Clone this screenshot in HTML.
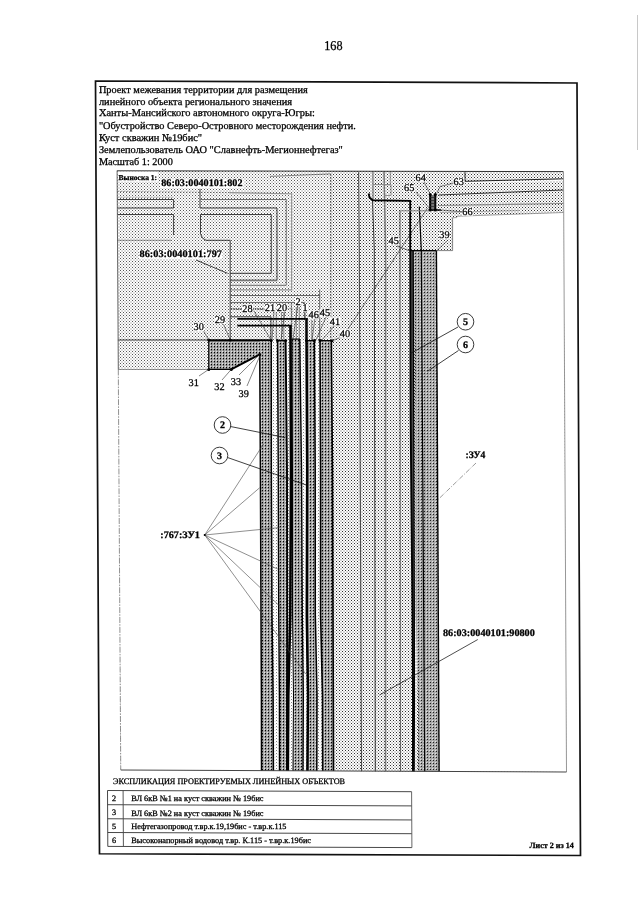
<!DOCTYPE html>
<html lang="ru"><head><meta charset="utf-8"><title>168</title>
<style>
html,body{margin:0;padding:0;background:#fff;}
body{width:640px;height:905px;overflow:hidden;}
svg{display:block;opacity:.999;will-change:transform;font-family:"Liberation Serif","DejaVu Serif",serif;fill:#000;}
text{stroke:#000;stroke-width:.28px;text-rendering:geometricPrecision;}
</style></head><body>
<svg width="640" height="905" viewBox="0 0 640 905">
<defs>
<pattern id="pl" patternUnits="userSpaceOnUse" width="3" height="3">
<rect width="3" height="3" fill="#fff"/>
<rect x="1" y="1" width="2" height="2" fill="#dcdcdc" shape-rendering="crispEdges"/>
<rect x="0" y="0" width="1" height="1" fill="#565656" shape-rendering="crispEdges"/>
</pattern>
<pattern id="pl2" patternUnits="userSpaceOnUse" width="3" height="3">
<rect width="3" height="3" fill="#fff"/>
<rect x="1" y="1" width="2" height="2" fill="#d6d6d6" shape-rendering="crispEdges"/>
<rect x="0" y="0" width="1" height="1" fill="#303030" shape-rendering="crispEdges"/>
</pattern>
<pattern id="pw" patternUnits="userSpaceOnUse" width="3" height="3">
<rect width="3" height="3" fill="#fff"/>
<rect x="0" y="0" width="1" height="1" fill="#808080" shape-rendering="crispEdges"/>
<rect x="1" y="1" width="2" height="1" fill="#ececec" shape-rendering="crispEdges"/>
</pattern>
<pattern id="pd" patternUnits="userSpaceOnUse" width="3" height="3">
<rect width="3" height="3" fill="#a8a8a8"/>
<rect x="1" y="1" width="1" height="1" fill="#000" shape-rendering="crispEdges"/>
<rect x="1" y="2" width="1" height="1" fill="#747474" shape-rendering="crispEdges"/>
<rect x="0" y="0" width="1" height="1" fill="#e2e2e2" shape-rendering="crispEdges"/>
</pattern>
<pattern id="pd2" patternUnits="userSpaceOnUse" width="3" height="3">
<rect width="3" height="3" fill="#aaaaaa"/>
<rect x="1" y="1" width="1" height="1" fill="#1e1e1e" shape-rendering="crispEdges"/>
<rect x="0" y="0" width="1" height="1" fill="#e2e2e2" shape-rendering="crispEdges"/>
</pattern>
</defs>
<rect width="640" height="905" fill="#fff"/>

<path d="M637.5,15 V150" fill="none" stroke="#c8c8c8" stroke-width="1" />
<text x="324.20" y="50.30" font-size="13.5" font-weight="normal" text-anchor="start" textLength="18.30" lengthAdjust="spacingAndGlyphs" >168</text>
<polygon points="95.50,81.00 577.00,83.00 580.50,855.50 99.50,853.75" fill="none" stroke="#111" stroke-width="1.7" />
<text x="98.90" y="92.50" font-size="10.3" font-weight="normal" text-anchor="start" textLength="208.95" lengthAdjust="spacingAndGlyphs" >Проект межевания территории для размещения</text>
<text x="98.90" y="104.50" font-size="10.3" font-weight="normal" text-anchor="start" textLength="193.20" lengthAdjust="spacingAndGlyphs" >линейного объекта регионального значения</text>
<text x="98.90" y="116.40" font-size="10.3" font-weight="normal" text-anchor="start" textLength="215.95" lengthAdjust="spacingAndGlyphs" >Ханты-Мансийского автономного округа-Югры:</text>
<text x="98.90" y="128.75" font-size="10.3" font-weight="normal" text-anchor="start" textLength="256.95" lengthAdjust="spacingAndGlyphs" >"Обустройство Северо-Островного месторождения нефти.</text>
<text x="98.90" y="140.75" font-size="10.3" font-weight="normal" text-anchor="start" textLength="103.20" lengthAdjust="spacingAndGlyphs" >Куст скважин №19бис"</text>
<text x="98.90" y="152.60" font-size="10.3" font-weight="normal" text-anchor="start" textLength="243.95" lengthAdjust="spacingAndGlyphs" >Землепользователь ОАО "Славнефть-Мегионнефтегаз"</text>
<text x="98.90" y="164.60" font-size="10.3" font-weight="normal" text-anchor="start" textLength="73.95" lengthAdjust="spacingAndGlyphs" >Масштаб 1: 2000</text>
<g id="map">
<polygon points="117.10,170.50 563.20,171.30 566.50,772.00 120.75,770.00" fill="url(#pl)" stroke="none" stroke-width="1" />
<polygon points="330.80,170.90 563.20,171.30 566.50,772.00 333.50,771.00" fill="url(#pl2)" stroke="none" stroke-width="1" />
<polygon points="118.20,369.50 231.25,369.40 259.75,354.40 261.50,771.00 120.75,770.00" fill="#fff" stroke="none" stroke-width="1" />
<polygon points="452.60,217.80 456.50,217.60 458.00,216.20 563.60,212.50 566.50,772.00 439.30,771.60 436.75,250.60 452.60,250.60" fill="#fff" stroke="none" stroke-width="1" />
<polygon points="208.75,340.00 271.25,340.40 271.30,470.00 272.00,615.00 273.10,695.00 273.40,771.00 261.50,771.00 261.40,695.00 261.00,615.00 260.40,470.00 259.75,354.40 231.25,369.40 208.75,369.40" fill="url(#pd)" stroke="none" stroke-width="1" />
<polygon points="277.50,340.60 278.25,470.00 278.75,615.00 279.40,695.00 279.50,771.00 287.00,771.00 287.00,695.00 287.25,615.00 287.00,470.00 285.60,340.60" fill="url(#pd)" stroke="none" stroke-width="1" />
<polygon points="292.00,339.00 292.50,470.00 292.50,615.00 293.50,695.00 293.00,771.00 303.00,771.00 303.30,695.00 302.30,615.00 301.50,470.00 299.75,339.00" fill="url(#pd)" stroke="none" stroke-width="1" />
<polygon points="306.50,340.00 307.20,470.00 306.80,615.00 308.00,695.00 307.40,771.00 316.80,771.00 317.00,695.00 315.30,615.00 315.20,470.00 314.40,340.60" fill="url(#pd)" stroke="none" stroke-width="1" />
<polygon points="320.00,340.60 320.60,470.00 320.60,615.00 322.50,695.00 322.70,771.00 333.50,771.00 333.30,695.00 333.00,615.00 332.50,470.00 331.30,340.80" fill="url(#pd)" stroke="none" stroke-width="1" />
<polygon points="271.25,340.40 271.30,470.00 272.00,615.00 273.10,695.00 273.40,771.00 279.50,771.00 279.40,695.00 278.75,615.00 278.25,470.00 277.50,340.60" fill="url(#pw)" stroke="none" stroke-width="1" />
<polygon points="285.60,340.60 287.00,470.00 287.25,615.00 287.00,695.00 287.00,771.00 293.00,771.00 293.50,695.00 292.50,615.00 292.50,470.00 292.00,339.00" fill="url(#pw)" stroke="none" stroke-width="1" />
<polygon points="299.75,339.00 301.50,470.00 302.30,615.00 303.30,695.00 303.00,771.00 307.40,771.00 308.00,695.00 306.80,615.00 307.20,470.00 306.50,340.00" fill="url(#pw)" stroke="none" stroke-width="1" />
<polygon points="314.40,340.60 315.20,470.00 315.30,615.00 317.00,695.00 316.80,771.00 322.70,771.00 322.50,695.00 320.60,615.00 320.60,470.00 320.00,340.60" fill="url(#pw)" stroke="none" stroke-width="1" />
<polygon points="413.50,250.60 436.40,250.60 439.10,771.60 417.80,771.60 418.00,705.00 415.70,615.00 415.50,415.00" fill="url(#pd2)" stroke="none" stroke-width="1" />
<polygon points="410.20,250.60 410.60,415.00 412.50,615.00 413.00,705.00 412.90,771.60 414.10,771.60 414.40,705.00 414.30,615.00 413.70,415.00 413.20,250.60" fill="#4a4a4a" stroke="none" stroke-width="1" />
<path d="M117.3,199.5 H173.6 V208 H117.3" fill="none" stroke="#2a2a2a" stroke-width="0.9" />
<path d="M117.4,214.5 H173.6 V235" fill="none" stroke="#2a2a2a" stroke-width="0.9" />
<path d="M117.6,240.3 H171.5" fill="none" stroke="#777" stroke-width="0.8" />
<path d="M117.2,191.5 L230,192.6" fill="none" stroke="#666" stroke-width="0.8" stroke-dasharray="1.5 1.5"/>
<path d="M117.2,197.3 H173" fill="none" stroke="#888" stroke-width="0.7" stroke-dasharray="1.5 1.5"/>
<path d="M200,189 V208" fill="none" stroke="#2a2a2a" stroke-width="0.9" />
<path d="M230,192.6 L291.6,193.75 V289.8 H230.2" fill="none" stroke="#969696" stroke-width="1.2" />
<path d="M200,199.5 H286.25 V285.3 H230.2" fill="none" stroke="#707070" stroke-width="1.0" />
<path d="M200,208 H277 V280.3" fill="none" stroke="#2a2a2a" stroke-width="0.9" />
<path d="M230.2,280.3 H277" fill="none" stroke="#777" stroke-width="1.8" />
<path d="M271.25,214.5 H200.5 V233.75 Q201.5,239 206,240.3 H230.2 V340" fill="none" stroke="#2a2a2a" stroke-width="0.9" />
<path d="M271.25,214.5 V273.3 H230.2" fill="none" stroke="#2a2a2a" stroke-width="0.9" />
<path d="M196,260 L227.5,273.3" fill="none" stroke="#2a2a2a" stroke-width="0.9" />
<path d="M230.2,295.5 H319.7 V340" fill="none" stroke="#555" stroke-width="0.9" />
<path d="M319.7,289.4 V296" fill="none" stroke="#555" stroke-width="0.9" />
<path d="M230.2,302.6 H304.4 V320" fill="none" stroke="#555" stroke-width="0.9" />
<path d="M231.5,308.9 H268" fill="none" stroke="#555" stroke-width="1.7" stroke-dasharray="0.1 2.3" stroke-linecap="round"/>
<path d="M268,308.7 H292 V340" fill="none" stroke="#555" stroke-width="0.8" stroke-dasharray="1.2 1.2"/>
<path d="M230.2,316.8 H270.9 V340" fill="none" stroke="#2a2a2a" stroke-width="0.9" />
<path d="M276.3,312 V340 M281.6,312 V340 M283.8,312 V340 M291.4,304 V325 M296.3,307 V339 M299.3,307 V339 M311.8,320 V340" fill="none" stroke="#444" stroke-width="0.6" />
<path d="M209.5,341.6 H259" fill="none" stroke="#222" stroke-width="1.0" stroke-dasharray="1 2"/>
<polyline points="237.40,318.90 307.40,318.90" fill="none" stroke="#000" stroke-width="1.8" />
<polyline points="306.50,318.10 306.50,340.00 307.20,470.00 306.80,615.00 308.00,695.00 307.40,771.00" fill="none" stroke="#000" stroke-width="2.5" />
<polyline points="237.40,325.70 291.40,325.70" fill="none" stroke="#000" stroke-width="1.8" />
<polyline points="290.50,324.90 290.50,340.00 291.00,470.00 290.30,615.00 288.30,695.00 287.80,771.00" fill="none" stroke="#000" stroke-width="2.6" />
<path d="M117.9,340 H208.75" fill="none" stroke="#2a2a2a" stroke-width="0.9" />
<path d="M330.75,173.9 V340" fill="none" stroke="#444" stroke-width="0.9" stroke-dasharray="2 1"/>
<path d="M270,176.4 L330.75,173.9" fill="none" stroke="#555" stroke-width="0.7" />
<polyline points="358.60,172.20 359.30,250.00 361.50,771.30" fill="none" stroke="#4a4a4a" stroke-width="1.1" />
<polyline points="372.50,200.00 374.30,250.00 375.30,771.30" fill="none" stroke="#333" stroke-width="1.0" />
<polyline points="372.90,171.50 373.10,200.00" fill="none" stroke="#8c8c8c" stroke-width="1.5" />
<polyline points="384.00,171.50 384.60,200.00 385.60,250.00 385.50,771.30" fill="none" stroke="#777" stroke-width="1.5" />
<polyline points="400.00,211.00 400.00,250.00 400.40,771.30" fill="none" stroke="#444" stroke-width="0.9" />
<path d="M373,184.5 H384 M384,184.5 H390.3 V171.5 M384.7,185 Q385,184.5 391,184.8 V195.5 H384.7" fill="none" stroke="#888" stroke-width="0.9" />
<path d="M427.5,208 L348,329" fill="none" stroke="#444" stroke-width="0.7" />
<path d="M397,246 L410,251" fill="none" stroke="#333" stroke-width="0.7" />
<polyline points="368.75,193.50 369.50,197.50 372.50,200.20 410.20,200.90 410.20,250.60 410.60,415.00 412.50,615.00 413.00,705.00 412.90,771.60" fill="none" stroke="#000" stroke-width="1.9" stroke-linejoin="miter"/>
<polyline points="413.20,250.60 413.70,415.00 414.30,615.00 414.40,705.00 414.10,771.60" fill="none" stroke="#000" stroke-width="1.3" />
<polyline points="419.30,206.60 421.30,250.60 424.70,771.60" fill="none" stroke="#000" stroke-width="1.2" />
<polyline points="436.40,250.60 439.10,771.60" fill="none" stroke="#000" stroke-width="1.4" />
<path d="M410.2,250.6 H436.4" fill="none" stroke="#000" stroke-width="1.3" />
<path d="M436.4,250.6 H452.6 V217.8" fill="none" stroke="#666" stroke-width="0.8" />
<path d="M452.6,217.8 L456.5,217.6 L458,216.2 L563.5,212.5" fill="none" stroke="#888" stroke-width="0.8" />
<path d="M465,172.2 V181.3 L563.3,178.8" fill="none" stroke="#222" stroke-width="1.0" />
<path d="M465.5,182.8 L563.3,180.3" fill="none" stroke="#fff" stroke-width="1.0" />
<path d="M438.5,195 L563.3,190" fill="none" stroke="#333" stroke-width="1.0" />
<path d="M438,205.5 L563.3,203.5" fill="none" stroke="#888" stroke-width="1.2" />
<path d="M440,212.5 L520,210.5" fill="none" stroke="#999" stroke-width="0.8" />
<rect x="430.20" y="195.00" width="5.00" height="14.60" fill="#777" />
<path d="M430.2,194.5 V210 M435.3,194.5 V210" fill="none" stroke="#000" stroke-width="2.0" />
<path d="M430,197.5 H435.5 M430,200.5 H435.5 M430,203.5 H435.5 M430,206.5 H435.5" fill="none" stroke="#222" stroke-width="0.7" />
<path d="M428.5,210 H441" fill="none" stroke="#000" stroke-width="1.5" />
<path d="M400,210.8 H429" fill="none" stroke="#888" stroke-width="1.0" />
<circle cx="430.20" cy="194.60" r="1.5" fill="#000"/>
<circle cx="435.30" cy="194.60" r="1.5" fill="#000"/>
<circle cx="430.20" cy="210.00" r="1.5" fill="#000"/>
<circle cx="435.30" cy="210.00" r="1.5" fill="#000"/>
<path d="M430,193.5 L424,182 M437,193 L440,186.5 L455,182.8 M429.5,208.5 L416,192 M441,210 L463,211.8" fill="none" stroke="#333" stroke-width="0.6" />
<polyline points="259.75,354.40 260.40,470.00 261.00,615.00 261.40,695.00 261.50,771.00" fill="none" stroke="#000" stroke-width="1.5" />
<polyline points="271.25,340.40 271.30,470.00 272.00,615.00 273.10,695.00 273.40,771.00" fill="none" stroke="#000" stroke-width="1.5" />
<polyline points="277.50,340.60 278.25,470.00 278.75,615.00 279.40,695.00 279.50,771.00" fill="none" stroke="#000" stroke-width="1.4" />
<polyline points="285.60,340.60 287.00,470.00 287.25,615.00 287.00,695.00 287.00,771.00" fill="none" stroke="#000" stroke-width="1.9" />
<polyline points="292.00,339.00 292.50,470.00 292.50,615.00 293.50,695.00 293.00,771.00" fill="none" stroke="#000" stroke-width="1.0" />
<polyline points="299.75,339.00 301.50,470.00 302.30,615.00 303.30,695.00 303.00,771.00" fill="none" stroke="#000" stroke-width="1.4" />
<polyline points="314.40,340.60 315.20,470.00 315.30,615.00 317.00,695.00 316.80,771.00" fill="none" stroke="#000" stroke-width="1.5" />
<polyline points="320.00,340.60 320.60,470.00 320.60,615.00 322.50,695.00 322.70,771.00" fill="none" stroke="#000" stroke-width="1.6" />
<polyline points="331.30,340.80 332.50,470.00 333.00,615.00 333.30,695.00 333.50,771.00" fill="none" stroke="#000" stroke-width="1.6" />
<path d="M208.75,340.1 H271.5" fill="none" stroke="#000" stroke-width="1.6" />
<path d="M277.5,340.6 H285.6 M292,339.2 H299.75 M306,340.6 H314.4 M320,340.6 H331.6" fill="none" stroke="#000" stroke-width="1.3" />
<polyline points="208.75,340.00 208.75,369.40 231.25,369.40" fill="none" stroke="#000" stroke-width="1.2" />
<polyline points="231.25,369.40 259.75,354.40" fill="none" stroke="#000" stroke-width="1.8" />
<path d="M118.2,369.5 H208.75" fill="none" stroke="#666" stroke-width="0.7" />
<circle cx="208.75" cy="340.00" r="1.5" fill="#000"/>
<circle cx="208.75" cy="369.40" r="1.5" fill="#000"/>
<circle cx="231.25" cy="369.40" r="1.5" fill="#000"/>
<circle cx="271.25" cy="340.50" r="1.5" fill="#000"/>
<circle cx="259.75" cy="354.40" r="1.5" fill="#000"/>
<circle cx="332.00" cy="340.80" r="1.5" fill="#000"/>
<circle cx="277.50" cy="340.60" r="1.5" fill="#000"/>
<circle cx="285.60" cy="340.60" r="1.5" fill="#000"/>
<circle cx="306.50" cy="340.60" r="1.5" fill="#000"/>
<circle cx="314.40" cy="340.60" r="1.5" fill="#000"/>
<circle cx="320.00" cy="340.60" r="1.5" fill="#000"/>
<circle cx="230.20" cy="340.00" r="1.5" fill="#000"/>
<path d="M203,330 L208.75,340 M223,323 L230.2,340 M254,311 L271,340 M274,311 L272,340 M285,311 L281,340 M298,304 L293,339 M305,311 L306,330 M315,318 L312,340 M326,317 L316,340 M335,325 L322,340 M344,336 L332,340.8" fill="none" stroke="#333" stroke-width="0.6" />
<path d="M199,376 L208.75,369.4 M222,380 L231.25,369.4 M239,375 L259.75,354.4 M247,386 L259.75,356" fill="none" stroke="#333" stroke-width="0.6" />
<rect x="193.25" y="323.20" width="11.00" height="8.00" fill="#fff" />
<text x="198.75" y="330.40" font-size="10.3" font-weight="normal" text-anchor="middle" >30</text>
<rect x="214.50" y="316.20" width="11.00" height="8.00" fill="#fff" />
<text x="220.00" y="323.40" font-size="10.3" font-weight="normal" text-anchor="middle" >29</text>
<rect x="242.00" y="304.70" width="11.00" height="8.00" fill="#fff" />
<text x="247.50" y="311.90" font-size="10.3" font-weight="normal" text-anchor="middle" >28</text>
<rect x="264.50" y="303.70" width="11.00" height="8.00" fill="#fff" />
<text x="270.00" y="310.90" font-size="10.3" font-weight="normal" text-anchor="middle" >21</text>
<rect x="276.50" y="303.70" width="11.00" height="8.00" fill="#fff" />
<text x="282.00" y="310.90" font-size="10.3" font-weight="normal" text-anchor="middle" >20</text>
<rect x="295.00" y="297.70" width="6.00" height="8.00" fill="#fff" />
<text x="298.00" y="304.90" font-size="10.3" font-weight="normal" text-anchor="middle" >2</text>
<rect x="302.00" y="304.20" width="6.00" height="8.00" fill="#fff" />
<text x="305.00" y="311.40" font-size="10.3" font-weight="normal" text-anchor="middle" >1</text>
<rect x="308.25" y="310.70" width="11.00" height="8.00" fill="#fff" />
<text x="313.75" y="317.90" font-size="10.3" font-weight="normal" text-anchor="middle" >46</text>
<rect x="319.50" y="309.20" width="11.00" height="8.00" fill="#fff" />
<text x="325.00" y="316.40" font-size="10.3" font-weight="normal" text-anchor="middle" >45</text>
<rect x="329.50" y="317.70" width="11.00" height="8.00" fill="#fff" />
<text x="335.00" y="324.90" font-size="10.3" font-weight="normal" text-anchor="middle" >41</text>
<rect x="339.50" y="329.70" width="11.00" height="8.00" fill="#fff" />
<text x="345.00" y="336.90" font-size="10.3" font-weight="normal" text-anchor="middle" >40</text>
<text x="193.75" y="386.20" font-size="10.3" font-weight="normal" text-anchor="middle" >31</text>
<text x="219.50" y="390.30" font-size="10.3" font-weight="normal" text-anchor="middle" >32</text>
<text x="236.00" y="385.20" font-size="10.3" font-weight="normal" text-anchor="middle" >33</text>
<text x="243.75" y="396.70" font-size="10.3" font-weight="normal" text-anchor="middle" >39</text>
<rect x="415.25" y="173.70" width="11.00" height="8.00" fill="#fff" />
<text x="420.75" y="180.90" font-size="10.3" font-weight="normal" text-anchor="middle" >64</text>
<rect x="453.25" y="177.70" width="11.00" height="8.00" fill="#fff" />
<text x="458.75" y="184.90" font-size="10.3" font-weight="normal" text-anchor="middle" >63</text>
<rect x="403.75" y="183.90" width="11.00" height="8.00" fill="#fff" />
<text x="409.25" y="191.10" font-size="10.3" font-weight="normal" text-anchor="middle" >65</text>
<rect x="462.00" y="207.70" width="11.00" height="8.00" fill="#fff" />
<text x="467.50" y="214.90" font-size="10.3" font-weight="normal" text-anchor="middle" >66</text>
<rect x="388.25" y="236.80" width="11.00" height="8.00" fill="#fff" />
<text x="393.75" y="244.00" font-size="10.3" font-weight="normal" text-anchor="middle" >45</text>
<rect x="439.00" y="230.70" width="11.00" height="8.00" fill="#fff" />
<text x="444.50" y="237.90" font-size="10.3" font-weight="normal" text-anchor="middle" >39</text>
<path d="M448,240 L436.4,251" fill="none" stroke="#333" stroke-width="0.6" />
<rect x="117.60" y="171.20" width="40.20" height="10.40" fill="#fff" />
<text x="118.60" y="179.60" font-size="7.5" font-weight="bold" text-anchor="start" textLength="38.50" lengthAdjust="spacingAndGlyphs" >Выноска 1:</text>
<rect x="160.00" y="179.50" width="83.75" height="8.70" fill="#fff" />
<text x="161.25" y="186.40" font-size="10.1" font-weight="bold" text-anchor="start" textLength="81.25" lengthAdjust="spacingAndGlyphs" >86:03:0040101:802</text>
<rect x="138.75" y="250.00" width="83.75" height="8.90" fill="#fff" />
<text x="139.50" y="257.20" font-size="10.1" font-weight="bold" text-anchor="start" textLength="82.50" lengthAdjust="spacingAndGlyphs" >86:03:0040101:797</text>
<text x="160.30" y="537.60" font-size="10" font-weight="bold" text-anchor="start" textLength="39.60" lengthAdjust="spacingAndGlyphs" >:767:ЗУ1</text>
<text x="465.50" y="458.30" font-size="10" font-weight="bold" text-anchor="start" textLength="19.90" lengthAdjust="spacingAndGlyphs" >:ЗУ4</text>
<text x="443.00" y="636.30" font-size="10.1" font-weight="bold" text-anchor="start" textLength="91.80" lengthAdjust="spacingAndGlyphs" >86:03:0040101:90800</text>
<path d="M476,463 L438,499.6" fill="none" stroke="#555" stroke-width="0.6" stroke-dasharray="5 1.5 1 1.5"/>
<path d="M477.8,639.5 L379.5,695" fill="none" stroke="#222" stroke-width="0.8" />
<path d="M204.7,535 L263.5,444" fill="none" stroke="#444" stroke-width="0.6" />
<path d="M204.7,535 L259.6,487.8" fill="none" stroke="#444" stroke-width="0.6" />
<path d="M204.7,535 L279.3,527.6" fill="none" stroke="#444" stroke-width="0.6" />
<path d="M204.7,535 L277.6,569" fill="none" stroke="#444" stroke-width="0.6" />
<path d="M204.7,535 L282.6,608.8" fill="none" stroke="#444" stroke-width="0.6" />
<path d="M204.7,535 L305.8,674" fill="none" stroke="#444" stroke-width="0.6" />
<circle cx="204.70" cy="535.00" r="1.0" fill="#000"/>
<path d="M230.5,426.5 L285,437.5" fill="none" stroke="#111" stroke-width="0.8" />
<circle cx="222.5" cy="425" r="8.3" fill="#fff" stroke="#222" stroke-width="0.9"/>
<text x="222.50" y="428.20" font-size="10" font-weight="bold" text-anchor="middle" >2</text>
<path d="M227.5,457.5 L306.25,485" fill="none" stroke="#111" stroke-width="0.8" />
<circle cx="219.5" cy="455.5" r="8.3" fill="#fff" stroke="#222" stroke-width="0.9"/>
<text x="219.50" y="458.70" font-size="10" font-weight="bold" text-anchor="middle" >3</text>
<path d="M458,327 L410,353.75" fill="none" stroke="#111" stroke-width="0.8" />
<circle cx="465.5" cy="321.75" r="8.3" fill="#fff" stroke="#222" stroke-width="0.9"/>
<text x="465.50" y="324.95" font-size="10" font-weight="bold" text-anchor="middle" >5</text>
<path d="M458.5,350.5 L427.5,371.25" fill="none" stroke="#111" stroke-width="0.8" />
<circle cx="465.5" cy="344.5" r="8.3" fill="#fff" stroke="#222" stroke-width="0.9"/>
<text x="465.50" y="347.70" font-size="10" font-weight="bold" text-anchor="middle" >6</text>
<polyline points="117.10,170.80 563.20,171.60" fill="none" stroke="#333" stroke-width="1.0" />
<polyline points="117.10,170.50 118.30,369.50" fill="none" stroke="#555" stroke-width="0.9" />
<polyline points="118.30,369.50 120.75,770.00" fill="none" stroke="#777" stroke-width="0.8" stroke-dasharray="6 1.2 1.5 1.2"/>
<polyline points="563.50,171.30 566.50,772.00" fill="none" stroke="#8c8c8c" stroke-width="0.9" />
<polyline points="120.75,770.00 566.50,772.00" fill="none" stroke="#444" stroke-width="1.0" />
</g>
<text x="113.10" y="784.20" font-size="8.5" font-weight="normal" text-anchor="start" textLength="232.00" lengthAdjust="spacingAndGlyphs" >ЭКСПЛИКАЦИЯ ПРОЕКТИРУЕМЫХ ЛИНЕЙНЫХ ОБЪЕКТОВ</text>
<path d="M107.50,790.5 L411.60,791.7" fill="none" stroke="#333" stroke-width="0.9" />
<path d="M107.57,804.7 L411.67,805.9000000000001" fill="none" stroke="#333" stroke-width="0.9" />
<path d="M107.64,818.75 L411.74,819.95" fill="none" stroke="#333" stroke-width="0.9" />
<path d="M107.71,832.5 L411.81,833.7" fill="none" stroke="#333" stroke-width="0.9" />
<path d="M107.78,846.4 L411.88,847.6" fill="none" stroke="#333" stroke-width="0.9" />
<path d="M107.5,790.5 L107.8,846.4" fill="none" stroke="#333" stroke-width="0.9" />
<path d="M123.1,790.5 L123.39999999999999,846.4" fill="none" stroke="#444" stroke-width="0.9" />
<path d="M411.6,791.7 L411.90000000000003,847.6" fill="none" stroke="#555" stroke-width="0.9" />
<text x="114.10" y="801.10" font-size="8.2" font-weight="normal" text-anchor="middle" >2</text>
<text x="131.25" y="801.30" font-size="8.2" font-weight="normal" text-anchor="start" textLength="132.25" lengthAdjust="spacingAndGlyphs" stroke="#000" stroke-width="0.15">ВЛ 6кВ №1 на куст скважин № 19бис</text>
<text x="114.10" y="815.30" font-size="8.2" font-weight="normal" text-anchor="middle" >3</text>
<text x="131.25" y="815.50" font-size="8.2" font-weight="normal" text-anchor="start" textLength="132.25" lengthAdjust="spacingAndGlyphs" stroke="#000" stroke-width="0.15">ВЛ 6кВ №2 на куст скважин № 19бис</text>
<text x="114.10" y="828.60" font-size="8.2" font-weight="normal" text-anchor="middle" >5</text>
<text x="131.25" y="828.80" font-size="8.2" font-weight="normal" text-anchor="start" textLength="155.25" lengthAdjust="spacingAndGlyphs" stroke="#000" stroke-width="0.15">Нефтегазопровод т.вр.к.19,19бис - т.вр.к.115</text>
<text x="114.10" y="842.90" font-size="8.2" font-weight="normal" text-anchor="middle" >6</text>
<text x="131.25" y="843.10" font-size="8.2" font-weight="normal" text-anchor="start" textLength="179.75" lengthAdjust="spacingAndGlyphs" stroke="#000" stroke-width="0.15">Высоконапорный водовод т.вр. К.115 - т.вр.к.19бис</text>
<text x="529.50" y="848.00" font-size="8.1" font-weight="bold" text-anchor="start" textLength="44.25" lengthAdjust="spacingAndGlyphs" >Лист 2 из 14</text>
</svg></body></html>
